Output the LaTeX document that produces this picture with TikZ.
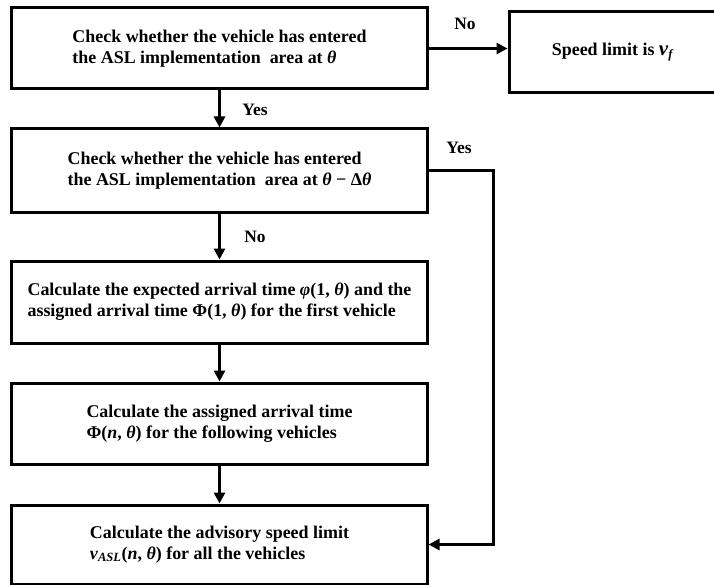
\documentclass[tikz,border=0pt]{standalone}
\usepackage{fontspec}
\setmainfont{Liberation Serif}
\usetikzlibrary{arrows.meta}
\newcommand{\mi}[1]{\textit{#1}}
\tikzset{
  fbox/.style={draw=black, line width=3bp, minimum width=415bp, align=left,
    inner sep=0pt, font=\fontsize{18}{21}\selectfont\bfseries},
  conn/.style={draw=black, line width=3bp, -{Triangle[length=11bp,width=11bp]}},
  lbl/.style={font=\fontsize{17.5}{21}\selectfont\bfseries, inner sep=0pt}
}
\begin{document}
\begin{tikzpicture}[x=1bp,y=-1bp]
\useasboundingbox (0,0) rectangle (714,585);
\node[fbox, minimum height=81bp] (b1) at (219.5,48.5)
  {Check whether the vehicle has entered\\the ASL implementation \ area at \mi{θ}};
\node[fbox, minimum width=208bp, minimum height=81bp, align=center] (sp) at (613,52.5)
  {Speed limit is \mi{\fontsize{21}{21}\selectfont v}\textsubscript{\mi{f}}};
\node[fbox, minimum height=83bp] (b2) at (219.5,170.5)
  {Check whether the vehicle has entered\\the ASL implementation \ area at \mi{θ} − Δ\mi{θ}};
\node[fbox, minimum height=82bp] (b3) at (219.5,302)
  {Calculate the expected arrival time \mi{φ}(1, \mi{θ}) and the\\assigned arrival time Φ(1, \mi{θ}) for the first vehicle};
\node[fbox, minimum height=81bp] (b4) at (219.5,423.5)
  {Calculate the assigned arrival time\\Φ(\mi{n}, \mi{θ}) for the following vehicles};
\node[fbox, minimum height=79bp] (b5) at (219.5,544.5)
  {Calculate the advisory speed limit\\\mi{v}\textsubscript{\mi{ASL}}(\mi{n}, \mi{θ}) for all the vehicles};
\coordinate (rc) at (493,0);
\draw[conn] (b1.east) -- (b1.east -| sp.west);
\draw[conn] (b1.south) -- (b2.north);
\draw[conn] (b2.south) -- (b3.north);
\draw[conn] (b3.south) -- (b4.north);
\draw[conn] (b4.south) -- (b5.north);
\draw[conn] (b2.east) -- (b2.east -| rc) |- (b5.east);
\node[lbl] (no1) at (465,24) {No};
\node[lbl] (yes1) at (255,110) {Yes};
\node[lbl] (yes2) at (459,148) {Yes};
\node[lbl] (no2) at (255,237) {No};
\end{tikzpicture}
\end{document}
